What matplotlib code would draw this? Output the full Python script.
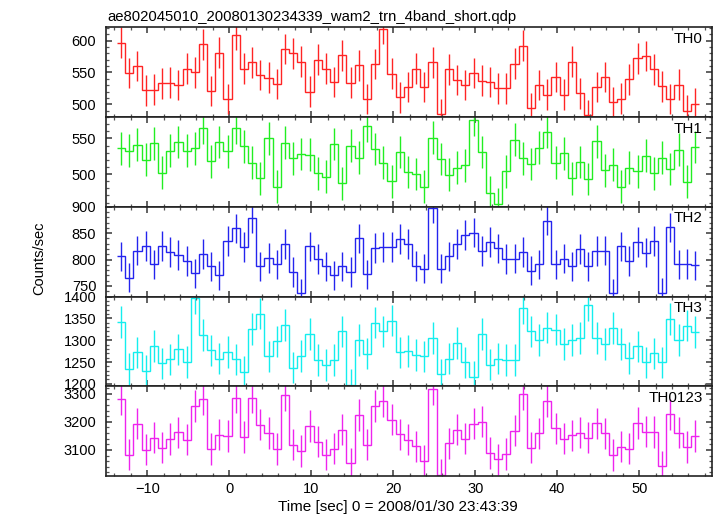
import matplotlib
matplotlib.use("Agg")
import matplotlib.pyplot as plt
import numpy as np
from matplotlib.ticker import MultipleLocator

title = "ae802045010_20080130234339_wam2_trn_4band_short.qdp"
names = ["TH0", "TH1", "TH2", "TH3", "TH0123"]

t_start = -13.2   # centre of first 1-s bin
bin_width = 1.0

th0 = [597, 549, 560, 522, 523, 533, 534, 530, 556, 550,
       594, 521, 581, 508, 609, 556, 566, 546, 542, 532,
       587, 580, 567, 520, 570, 556, 535, 577, 534, 561,
       508, 563, 618, 548, 511, 527, 556, 527, 566, 484,
       555, 538, 530, 549, 537, 535, 525, 525, 564, 592,
       494, 530, 515, 543, 515, 567, 517, 483, 527, 543,
       503, 509, 539, 572, 576, 555, 528, 508, 531, 490, 501]
th1 = [536, 533, 541, 520, 543, 502, 533, 545, 533, 536,
       565, 518, 545, 532, 565, 539, 516, 494, 550, 482,
       544, 522, 528, 527, 501, 496, 542, 487, 540, 523,
       568, 535, 516, 490, 531, 503, 500, 482, 551, 521,
       499, 509, 512, 576, 531, 474, 458, 504, 548, 522,
       514, 537, 559, 516, 529, 494, 517, 493, 546, 505,
       513, 482, 509, 504, 526, 501, 523, 507, 534, 489, 538]
th2 = [806, 766, 817, 826, 791, 826, 814, 809, 797, 774,
       811, 787, 770, 835, 859, 824, 878, 787, 803, 791,
       829, 776, 736, 825, 801, 787, 770, 787, 776, 840,
       772, 822, 824, 824, 839, 830, 788, 783, 897, 783,
       806, 829, 847, 851, 816, 833, 821, 801, 802, 814,
       779, 791, 874, 791, 802, 787, 820, 787, 816, 817,
       736, 825, 797, 833, 813, 835, 737, 861, 791, 792, 789]
th3 = [1342, 1234, 1272, 1230, 1287, 1247, 1256, 1279, 1250, 1396,
       1312, 1277, 1258, 1273, 1256, 1227, 1326, 1361, 1263, 1297,
       1335, 1237, 1264, 1314, 1255, 1243, 1255, 1320, 1198, 1300,
       1269, 1340, 1320, 1345, 1272, 1275, 1266, 1263, 1305, 1222,
       1258, 1294, 1249, 1216, 1314, 1244, 1258, 1255, 1255, 1373,
       1320, 1300, 1329, 1324, 1291, 1300, 1305, 1380, 1305, 1291,
       1328, 1291, 1259, 1286, 1249, 1270, 1249, 1349, 1300, 1333, 1319]
th0123 = [3280, 3083, 3194, 3101, 3144, 3108, 3139, 3163, 3137, 3257,
          3280, 3104, 3154, 3150, 3286, 3146, 3286, 3190, 3160, 3104,
          3295, 3119, 3096, 3186, 3130, 3083, 3105, 3172, 3052, 3225,
          3119, 3257, 3275, 3208, 3156, 3137, 3113, 3060, 3317, 3012,
          3123, 3172, 3140, 3194, 3201, 3089, 3066, 3086, 3169, 3300,
          3108, 3159, 3275, 3177, 3140, 3152, 3162, 3144, 3195, 3159,
          3082, 3112, 3105, 3196, 3165, 3164, 3041, 3227, 3162, 3110, 3149]

# typical 1-sigma error per band
errors = [24, 23, 28, 36, 56]

colors = ["#ff2424", "#22ee22", "#2424ee", "#14eeee", "#ee24ee"]
ylims = [(480, 621), (454, 580), (730, 900), (1194.5, 1400), (3007, 3327)]
ymajor = [50, 50, 50, 50, 100]
yminor = [10, 10, 10, 10, 20]

series = [th0, th1, th2, th3, th0123]

plt.rcParams['font.family'] = ['Liberation Sans', 'DejaVu Sans']
plt.rcParams['font.size'] = 10

fig, axes = plt.subplots(5, 1, sharex=True, figsize=(7.17, 5.16), dpi=100)
fig.subplots_adjust(left=106/717, right=711.7/717, top=1-27.3/516,
                    bottom=1-476/516, hspace=0)

for i, ax in enumerate(axes):
    vals = np.array(series[i], dtype=float)
    centers = t_start + bin_width*np.arange(len(vals))
    edges = np.append(centers - bin_width/2, centers[-1] + bin_width/2)
    ax.stairs(vals, edges, baseline=None, color=colors[i], lw=1.0)
    ax.errorbar(centers, vals, yerr=errors[i], fmt='none',
                ecolor=colors[i], elinewidth=1.0, capsize=0)

    ax.set_xlim(-15.03, 58.84)
    ax.set_ylim(*ylims[i])
    ax.yaxis.set_major_locator(MultipleLocator(ymajor[i]))
    ax.yaxis.set_minor_locator(MultipleLocator(yminor[i]))
    ax.xaxis.set_major_locator(MultipleLocator(10))
    ax.xaxis.set_minor_locator(MultipleLocator(2))
    ax.tick_params(which='both', direction='in', top=True, right=True,
                   color='#555555', labelsize=10.5)
    ax.tick_params(which='major', length=4, width=1.3, pad=4)
    ax.tick_params(axis='y', which='major', pad=7)
    ax.tick_params(which='minor', length=2, width=0.9)
    for sp in ax.spines.values():
        sp.set_linewidth(1.2)
        sp.set_color('#222222')

    ax.text(0.9856, 0.95, names[i], transform=ax.transAxes,
            ha='right', va='top', fontsize=11)

fig.text(107/717, 1-20.7/516, title, ha='left', va='baseline', fontsize=10.7)
fig.text(39/717, 1-258/516, "Counts/sec", rotation=90,
         ha='center', va='center', fontsize=10.5)
fig.text(398/717, 1-511/516, "Time [sec] 0 = 2008/01/30 23:43:39",
         ha='center', va='baseline', fontsize=11)

fig.savefig("out.png", dpi=100)
